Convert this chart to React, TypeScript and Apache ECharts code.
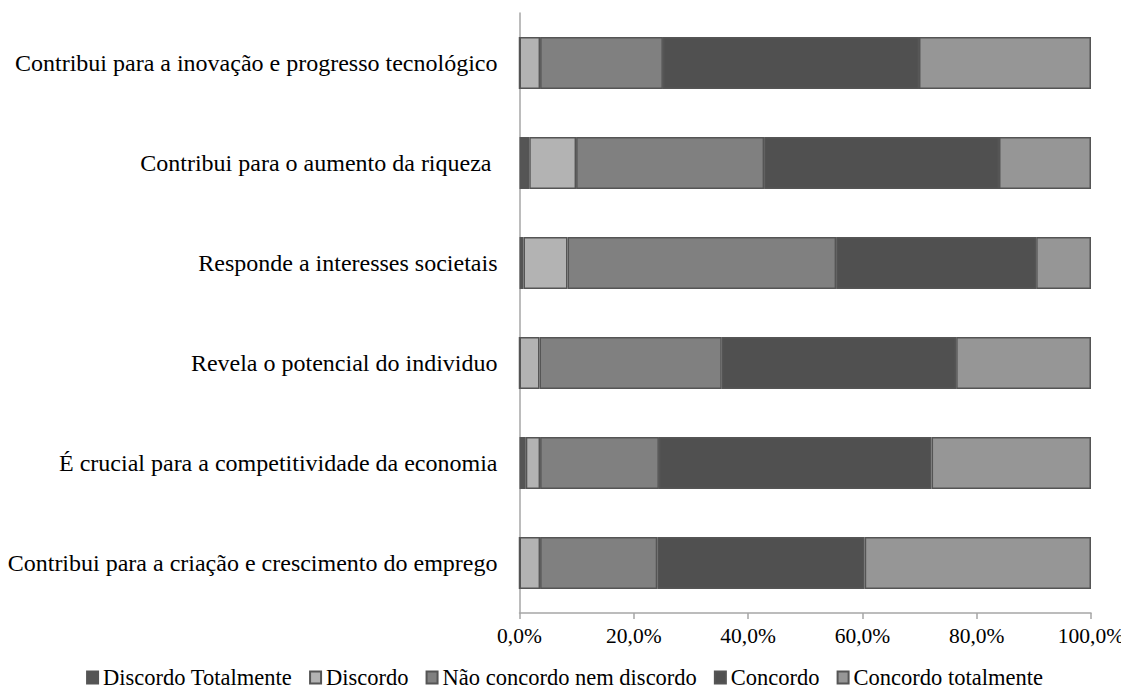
import React, { useEffect, useRef } from "react";
import * as echarts from "echarts";

const categories = [
  "Contribui para a inovação e progresso tecnológico",
  "Contribui para o aumento da riqueza ",
  "Responde a interesses societais",
  "Revela o potencial do individuo",
  "É crucial para a competitividade da economia",
  "Contribui para a criação e crescimento do emprego",
];
const discordoTotalmente = [0, 1.7, 0.7, 0, 1.1, 0];
const discordo = [3.6, 8.2, 7.7, 3.5, 2.5, 3.6];
const naoConcordo = [21.5, 32.9, 47.0, 31.9, 20.8, 20.5];
const concordo = [44.8, 41.1, 35.0, 41.0, 47.7, 36.3];
const concordoTotalmente = [30.1, 16.1, 9.6, 23.6, 27.9, 39.6];
const xTicks = [0, 20, 40, 60, 80, 100];

const seriesDefs = [
  { name: "Discordo Totalmente", data: discordoTotalmente, color: "#555555" },
  { name: "Discordo", data: discordo, color: "#b3b3b3" },
  { name: "Não concordo nem discordo", data: naoConcordo, color: "#808080" },
  { name: "Concordo", data: concordo, color: "#505050" },
  { name: "Concordo totalmente", data: concordoTotalmente, color: "#969696" },
];

const FONT = "Liberation Serif";

export default function App() {
  const ref = useRef<HTMLDivElement>(null);
  useEffect(() => {
    if (!ref.current) return;
    const chart = echarts.init(ref.current, undefined, { renderer: "svg" });
    chart.setOption({
      animation: false,
      textStyle: { fontFamily: FONT, color: "#000" },
      grid: { left: 519.5, right: 38, top: 13, bottom: 84, containLabel: false },
      legend: {
        top: 661,
        left: "center",
        itemWidth: 11,
        itemHeight: 12,
        itemGap: 17,
        icon: "rect",
        textStyle: { fontFamily: FONT, fontSize: 22.5, color: "#000" },
        data: seriesDefs.map((s) => s.name),
      },
      xAxis: {
        type: "value",
        min: 0,
        max: 100,
        interval: 20,
        splitLine: { show: false },
        axisLine: { show: true, lineStyle: { color: "#a6a6a6", width: 1.5 } },
        axisTick: { show: true, length: 6, lineStyle: { color: "#a6a6a6", width: 1.5 } },
        axisLabel: {
          fontFamily: FONT,
          fontSize: 21.5,
          color: "#000",
          margin: 12,
          formatter: (v: number) =>
            xTicks.includes(v) ? v.toFixed(1).replace(".", ",") + "%" : "",
        },
      },
      yAxis: {
        type: "category",
        inverse: true,
        data: categories,
        axisLine: { show: true, lineStyle: { color: "#a6a6a6", width: 1.5 } },
        axisTick: { show: false },
        axisLabel: { fontFamily: FONT, fontSize: 24, color: "#000", margin: 22 },
      },
      series: seriesDefs.map((s) => ({
        name: s.name,
        type: "bar",
        stack: "total",
        barWidth: "52%",
        data: s.data,
        itemStyle: { color: s.color, borderColor: "#555555", borderWidth: 1.5 },
      })),
    });
    return () => chart.dispose();
  }, []);
  return <div ref={ref} style={{ width: 1129, height: 697, margin: -8 }} />;
}
